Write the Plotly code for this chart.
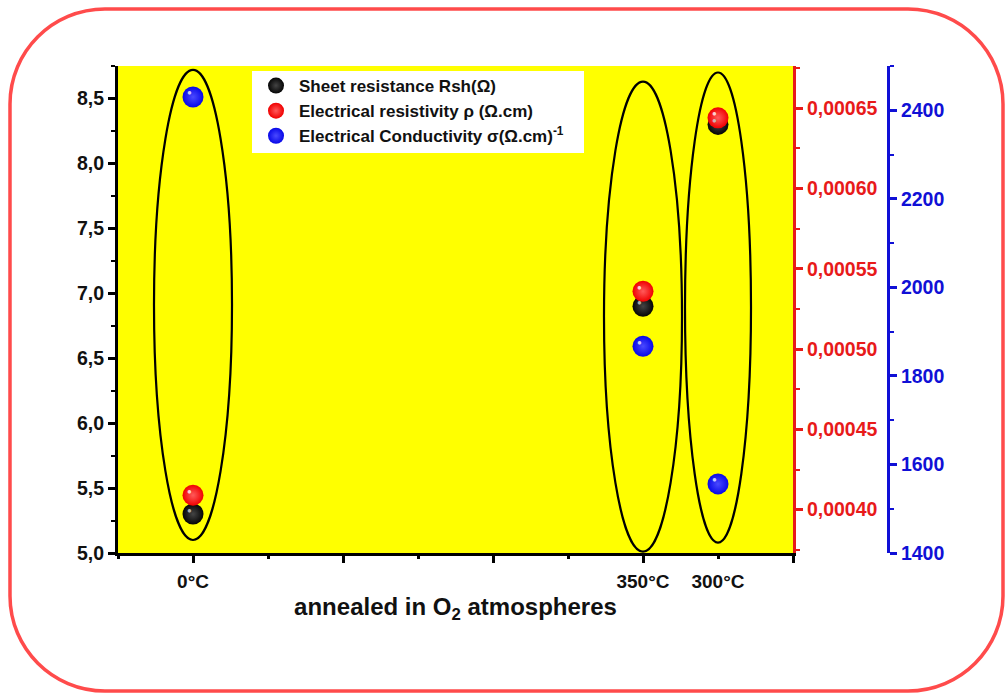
import plotly.graph_objects as go

# ---- data -------------------------------------------------------------
categories = ["0°C", "350°C", "300°C"]
cat_pos = [1, 7, 8]                               # position of each sample on the x axis
sheet_resistance = [5.30, 6.90, 8.30]             # Rsh (Ω)
resistivity = [0.000409, 0.000536, 0.000644]      # ρ (Ω.cm)
conductivity = [2430, 1867, 1556]                 # σ (Ω.cm)^-1

# group outlines around each sample: (half width in x, bottom, top on the Rsh axis)
group_outline = [(0.52, 5.10, 8.72), (0.52, 5.01, 8.63), (0.44, 5.08, 8.70)]

# ---- page geometry ----------------------------------------------------
W, H = 1005, 693
ML, MR, MT, MB = 118, 100, 66, 140
PW, PH = W - ML - MR, H - MT - MB
X_END = (793 - ML) / PW           # right end of the x axis domain
BLUE_POS = (888 - ML) / PW        # position of the conductivity axis

RED = "#e81a1a"
BLUE = "#1010d6"
FONT = "Liberation Sans, Arial, sans-serif"


def paper_x(p):
    return (p - ML) / PW


def paper_y(p):
    return (H - MB - p) / PH


fig = go.Figure()

series = [
    ("Sheet resistance Rsh(Ω)", sheet_resistance, "y", "#050505", "#444444", "rgba(200,200,200,0.85)"),
    ("Electrical resistivity ρ (Ω.cm)", resistivity, "y2", "#f00000", "#ff5a5a", "rgba(255,230,230,0.9)"),
    ("Electrical Conductivity σ(Ω.cm)<sup>-1</sup>", conductivity, "y3", "#0808e8", "#4a4aff", "rgba(225,225,255,0.9)"),
]

for name, vals, yax, col, centre, _ in series:
    fig.add_trace(go.Scatter(
        x=cat_pos, y=vals, yaxis=yax, mode="markers", name=name,
        marker=dict(size=21, color=col, line=dict(width=0),
                    gradient=dict(type="radial", color=centre)),
        cliponaxis=False,
    ))

# empty trace so the tick-mark axis (x2) gets drawn
fig.add_trace(go.Scatter(x=[], y=[], xaxis="x2", yaxis="y", showlegend=False,
                         hoverinfo="skip"))

# small specular highlight on each ball
annotations = []
for name, vals, yax, col, centre, hl in series:
    for xv, yv in zip(cat_pos, vals):
        annotations.append(dict(
            x=xv, y=yv, xref="x", yref=yax, text="●", showarrow=False,
            font=dict(size=8, color=hl), xshift=-4, yshift=4,
        ))

shapes = []
# white legend panel
shapes.append(dict(type="rect", xref="paper", yref="paper", layer="below",
                   x0=paper_x(252), x1=paper_x(584), y0=paper_y(153), y1=paper_y(71),
                   fillcolor="white", line=dict(width=0)))
# ellipses grouping the three measurements of each sample
for xc, (hw, lo, hi) in zip(cat_pos, group_outline):
    shapes.append(dict(type="circle", xref="x", yref="y", layer="above",
                       x0=xc - hw, x1=xc + hw, y0=lo, y1=hi,
                       line=dict(color="black", width=2.2)))

# rounded frame around the figure
x0, x1, y0, y1, r = 10, 1003, 9, 691, 95
k = 0.5523 * r
pts = [
    ("M", [(x0 + r, y0)]),
    ("L", [(x1 - r, y0)]),
    ("C", [(x1 - r + k, y0), (x1, y0 + r - k), (x1, y0 + r)]),
    ("L", [(x1, y1 - r)]),
    ("C", [(x1, y1 - r + k), (x1 - r + k, y1), (x1 - r, y1)]),
    ("L", [(x0 + r, y1)]),
    ("C", [(x0 + r - k, y1), (x0, y1 - r + k), (x0, y1 - r)]),
    ("L", [(x0, y0 + r)]),
    ("C", [(x0, y0 + r - k), (x0 + r - k, y0), (x0 + r, y0)]),
]
path = " ".join(
    cmd + " " + " ".join(f"{paper_x(a):.5f},{paper_y(b):.5f}" for a, b in p) for cmd, p in pts
) + " Z"
shapes.append(dict(type="path", xref="paper", yref="paper", path=path,
                   line=dict(color="#ff4b4b", width=3.5)))

tick_font = dict(family=FONT, size=19.5, weight="bold")

fig.update_layout(
    width=W, height=H,
    margin=dict(l=ML, r=MR, t=MT, b=MB, pad=0),
    paper_bgcolor="white",
    plot_bgcolor="#ffff00",
    separators=",.",
    font=dict(family=FONT, color="#111111"),
    showlegend=True,
    legend=dict(x=paper_x(253), y=paper_y(68), xanchor="left", yanchor="top",
                bgcolor="rgba(0,0,0,0)", borderwidth=0, itemwidth=36,
                font=dict(family=FONT, size=17, weight="bold", color="#111111"),
                itemsizing="trace", tracegroupgap=0),
    xaxis=dict(
        domain=[0, X_END], range=[0, 9], anchor="y",
        showline=True, linecolor="black", linewidth=3,
        tickvals=cat_pos, ticktext=categories,
        ticks="outside", ticklen=9, tickcolor="rgba(0,0,0,0)",
        tickfont=dict(family=FONT, size=19, weight="bold", color="#111111"),
        showgrid=False, zeroline=False,
        title=dict(text="annealed in O<sub>2</sub> atmospheres", standoff=8,
                   font=dict(family=FONT, size=24, weight="bold", color="#111111")),
    ),
    xaxis2=dict(
        domain=[0, X_END], range=[0, 9], anchor="y", overlaying="x", side="bottom",
        showline=False, showticklabels=False, showgrid=False, zeroline=False,
        tickvals=[1, 3, 5, 7, 9], ticks="outside", ticklen=9, tickwidth=3, tickcolor="black",
        minor=dict(tickvals=[0, 2, 4, 6, 8], ticks="outside", ticklen=5, tickwidth=3,
                   tickcolor="black", showgrid=False),
    ),
    yaxis=dict(
        range=[5.0, 8.75], anchor="x",
        showline=True, linecolor="black", linewidth=3,
        tick0=5, dtick=0.5, tickformat=".1f",
        ticks="outside", ticklen=7, tickwidth=3, tickcolor="black",
        minor=dict(dtick=0.25, ticks="outside", ticklen=4, tickwidth=2, tickcolor="black"),
        tickfont=dict(tick_font, color="#111111"),
        showgrid=False, zeroline=False,
    ),
    yaxis2=dict(
        range=[0.000373, 0.0006763], overlaying="y", anchor="x", side="right",
        showline=True, linecolor=RED, linewidth=3,
        tick0=0.0004, dtick=0.00005, tickformat=".5f",
        ticks="outside", ticklen=7, tickwidth=3, tickcolor=RED,
        minor=dict(dtick=0.000025, ticks="outside", ticklen=4, tickwidth=2, tickcolor=RED),
        tickfont=dict(tick_font, color=RED),
        showgrid=False, zeroline=False,
    ),
    yaxis3=dict(
        range=[1400, 2500], overlaying="y", anchor="free", position=BLUE_POS, side="right",
        showline=True, linecolor=BLUE, linewidth=3,
        tick0=1400, dtick=200, tickformat="d",
        ticks="outside", ticklen=7, tickwidth=3, tickcolor=BLUE,
        minor=dict(dtick=100, ticks="outside", ticklen=4, tickwidth=2, tickcolor=BLUE),
        tickfont=dict(tick_font, color=BLUE),
        showgrid=False, zeroline=False,
    ),
    shapes=shapes,
    annotations=annotations,
)

fig.write_html("out.html")
